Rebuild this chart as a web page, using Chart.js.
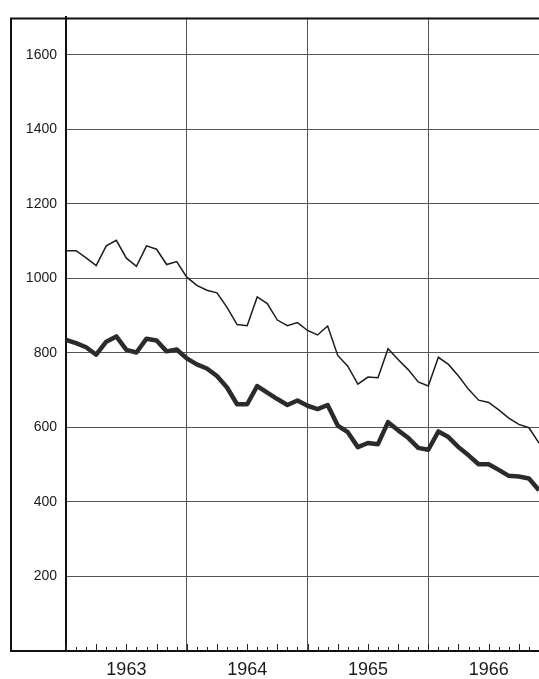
<!DOCTYPE html>
<html>
<head>
<meta charset="utf-8">
<script src="https://cdn.jsdelivr.net/npm/chart.js@4.4.1/dist/chart.umd.min.js"></script>
<style>
  html, body { margin: 0; padding: 0; background: #fff; }
</style>
</head>
<body>
<canvas id="chart" width="539" height="679"></canvas>
<script>
/* ================= DATA ================= */

const years = ["1963", "1964", "1965", "1966"];
const monthNames = ["Jan", "Feb", "Mar", "Apr", "May", "Jun", "Jul", "Aug", "Sep", "Oct", "Nov", "Dec"];
const months = years.flatMap(y => monthNames.map(m => m + " " + y));

const yTicks = [200, 400, 600, 800, 1000, 1200, 1400, 1600];

// thin upper line
const upperSeries = [
  1074, 1074, 1055, 1034, 1087, 1102, 1054, 1032, 1087, 1078, 1037, 1045,
  1003, 981, 968, 961, 922, 876, 873, 950, 932, 888, 873, 881,
  860, 848, 872, 793, 764, 716, 735, 733, 811, 782, 755, 722,
  711, 788, 769, 738, 702, 673, 667, 647, 625, 608, 599, 558
];

// thick lower line
const lowerSeries = [
  835, 826, 815, 795, 830, 844, 808, 801, 838, 833, 804, 809,
  785, 769, 758, 738, 707, 662, 662, 711, 693, 676, 660, 672,
  658, 649, 660, 605, 587, 547, 558, 555, 614, 592, 572, 545,
  540, 589, 574, 547, 525, 501, 501, 486, 470, 468, 463, 431
];

/* ================= FRAME + MONTH TICKS ================= */

const framePlugin = {
  id: "frame",
  beforeDatasetsDraw(chart) {
    const ctx = chart.ctx;
    const xs = chart.scales.x;
    const bottom = chart.chartArea.bottom;
    ctx.save();
    ctx.strokeStyle = "#222";
    ctx.lineWidth = 1;
    months.forEach((m, i) => {
      const x = Math.round(xs.getPixelForValue(i)) + 0.5;
      const len = i % 3 === 0 ? 7 : 4;
      ctx.beginPath();
      ctx.moveTo(x, bottom);
      ctx.lineTo(x, bottom - len);
      ctx.stroke();
    });
    ctx.restore();
  },
  afterDraw(chart) {
    const ctx = chart.ctx;
    const a = chart.chartArea;
    ctx.save();
    ctx.strokeStyle = "#111";
    ctx.lineWidth = 2;
    ctx.beginPath();
    ctx.moveTo(11, a.top);
    ctx.lineTo(11, a.bottom);
    ctx.moveTo(10, a.top + 1);
    ctx.lineTo(chart.width, a.top + 1);
    ctx.moveTo(10, a.bottom);
    ctx.lineTo(a.left, a.bottom);
    ctx.stroke();
    ctx.restore();
  }
};

/* ================= CHART ================= */

new Chart(document.getElementById("chart"), {
  type: "line",
  data: {
    labels: months,
    datasets: [
      {
        data: upperSeries,
        borderColor: "#1c1c1c",
        borderWidth: 1.5,
        pointRadius: 0,
        tension: 0
      },
      {
        data: lowerSeries,
        borderColor: "#2b2b2b",
        borderWidth: 4.5,
        pointRadius: 0,
        tension: 0,
        borderJoinStyle: "round"
      }
    ]
  },
  options: {
    responsive: false,
    animation: false,
    layout: { padding: { left: 10, top: 12, right: 0, bottom: 0 } },
    plugins: {
      legend: { display: false },
      tooltip: { enabled: false }
    },
    scales: {
      x: {
        type: "category",
        offset: false,
        afterFit: s => { s.height = 28; s.paddingLeft = 0; s.paddingRight = 0; },
        border: { display: true, width: 2, color: "#111" },
        grid: {
          drawTicks: false,
          lineWidth: 1,
          color: c => (c.index % 12 === 0 && c.index > 0) ? "#555" : "rgba(0,0,0,0)"
        },
        ticks: {
          autoSkip: false,
          maxRotation: 0,
          padding: 8,
          color: "#1a1a1a",
          font: { family: "Liberation Sans, Arial, sans-serif", size: 18 },
          callback: (v, i) => i % 12 === 6 ? years[Math.floor(i / 12)] : ""
        }
      },
      y: {
        min: 0,
        max: 1700,
        afterFit: s => { s.width = 56; },
        afterBuildTicks: s => { s.ticks = yTicks.map(v => ({ value: v })); },
        border: { display: true, width: 2, color: "#111" },
        grid: { drawTicks: false, color: "#555", lineWidth: 1 },
        ticks: {
          padding: 9,
          color: "#1a1a1a",
          font: { family: "Liberation Sans, Arial, sans-serif", size: 14 },
          callback: v => String(v)
        }
      }
    }
  },
  plugins: [framePlugin]
});
</script>
</body>
</html>
